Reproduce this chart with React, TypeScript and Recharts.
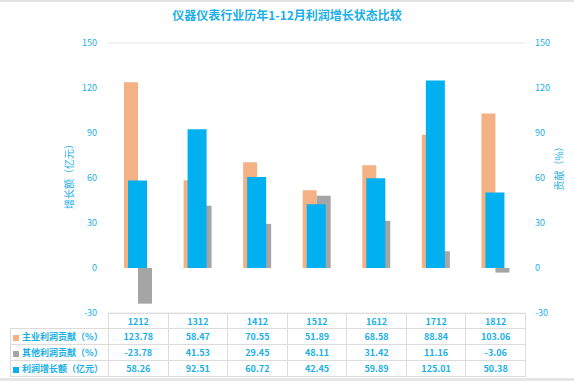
import React from "react";
import { BarChart, Bar, XAxis, YAxis, CartesianGrid } from "recharts";

const years = ["1212", "1312", "1412", "1512", "1612", "1712", "1812"];
const mainProfit = [123.78, 58.47, 70.55, 51.89, 68.58, 88.84, 103.06];
const otherProfit = [-23.78, 41.53, 29.45, 48.11, 31.42, 11.16, -3.06];
const profitGrowth = [58.26, 92.51, 60.72, 42.45, 59.89, 125.01, 50.38];
const axisTicks = [-30, 0, 30, 60, 90, 120, 150];

const seriesInfo = [
    { name: "主业利润贡献（%）", color: "#F4B183", values: mainProfit },
    { name: "其他利润贡献（%）", color: "#A5A5A5", values: otherProfit },
    { name: "利润增长额（亿元）", color: "#00B0F0", values: profitGrowth },
];

const TEXT = "#1AAFE6";
const FONT = "'Noto Sans CJK SC', 'Noto Sans', sans-serif";

const data = years.map((y, i) => ({ year: y, main: mainProfit[i], other: otherProfit[i], growth: profitGrowth[i] }));

const PLOT_LEFT = 108;
const PLOT_RIGHT = 525;
const colW = (PLOT_RIGHT - PLOT_LEFT) / years.length;

export default function App() {
    const tickStyle = { fontSize: 9, fill: TEXT, fontFamily: FONT };
    const cell: React.CSSProperties = { border: "1px solid #dcdcdc", textAlign: "center", padding: 0, color: TEXT, fontSize: 9, fontWeight: 600 };

    return (
        <div style={{ position: "absolute", left: 0, top: 0, width: 574, height: 381, background: "#fff", fontFamily: FONT, overflow: "hidden" }}>
            <div style={{ position: "absolute", left: 0, top: 0, width: 574, height: 2, background: "#e3e3e3" }} />
            <div style={{ position: "absolute", left: 0, top: 378, width: 574, height: 3, background: "#e6e6e6" }} />
            <div style={{ position: "absolute", left: 0, top: 6, width: 574, textAlign: "center", color: TEXT, fontSize: 12, fontWeight: 700 }}>
                仪器仪表行业历年1-12月利润增长状态比较
            </div>

            <BarChart width={574} height={381} data={data} barGap={0} margin={{ top: 43, right: 19, bottom: 68, left: 78 }}>
                <CartesianGrid vertical={false} stroke="#e4e4e4" />
                <XAxis xAxisId="a" dataKey="year" hide />
                <XAxis xAxisId="b" dataKey="year" hide />
                <YAxis yAxisId="left" orientation="left" width={30} domain={[-30, 150]} ticks={axisTicks} tick={tickStyle}
                    axisLine={false} tickLine={false} tickSize={0} tickMargin={11} />
                <YAxis yAxisId="right" orientation="right" width={30} domain={[-30, 150]} ticks={axisTicks} tick={tickStyle}
                    axisLine={false} tickLine={false} tickSize={0} tickMargin={10} />
                <Bar xAxisId="a" yAxisId="right" dataKey="main" fill="#F4B183" barSize={14} isAnimationActive={false} />
                <Bar xAxisId="a" yAxisId="right" dataKey="other" fill="#A5A5A5" barSize={14} isAnimationActive={false} />
                <Bar xAxisId="b" yAxisId="left" dataKey="growth" fill="#00B0F0" barSize={19} isAnimationActive={false} />
            </BarChart>

            <div style={{ position: "absolute", left: 68, top: 174, transform: "translate(-50%, -50%) rotate(-90deg)", whiteSpace: "nowrap", color: TEXT, fontSize: 10 }}>
                增长额（亿元）
            </div>
            <div style={{ position: "absolute", left: 558, top: 166, transform: "translate(-50%, -50%) rotate(-90deg)", whiteSpace: "nowrap", color: TEXT, fontSize: 10 }}>
                贡献（%）
            </div>

            <table style={{ position: "absolute", left: 10, top: 313, borderCollapse: "collapse", tableLayout: "fixed", fontFamily: FONT }}>
                <colgroup>
                    <col style={{ width: PLOT_LEFT - 10 }} />
                    {years.map((y) => <col key={y} style={{ width: colW }} />)}
                </colgroup>
                <tbody>
                    <tr style={{ height: 15 }}>
                        <td style={{ padding: 0 }} />
                        {years.map((y) => <td key={y} style={cell}>{y}</td>)}
                    </tr>
                    {seriesInfo.map((s) => (
                        <tr key={s.name} style={{ height: 16 }}>
                            <td style={{ ...cell, textAlign: "left", paddingLeft: 2, whiteSpace: "nowrap" }}>
                                <span style={{ display: "inline-block", width: 6, height: 6, background: s.color, marginRight: 3, verticalAlign: "middle" }} />
                                {s.name}
                            </td>
                            {s.values.map((v, i) => <td key={i} style={cell}>{v.toFixed(2)}</td>)}
                        </tr>
                    ))}
                </tbody>
            </table>
        </div>
    );
}
